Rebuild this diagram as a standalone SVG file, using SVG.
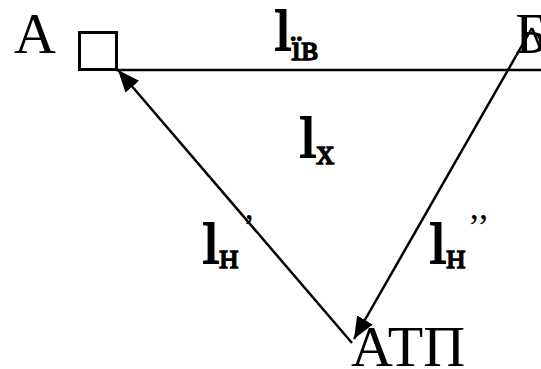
<svg xmlns="http://www.w3.org/2000/svg" width="541" height="369" viewBox="0 0 541 369">
<style>
  .lbl { font-family: "Liberation Serif", "Times New Roman", serif; font-size: 58px; fill: #000; }
  .ell { font-family: "Liberation Serif", "Times New Roman", serif; font-size: 58px; fill: #000; stroke: #000; stroke-width: 2.2px; }
  .sub { font-family: "Liberation Serif", "Times New Roman", serif; font-size: 36px; fill: #000; stroke: #000; stroke-width: 1.4px; }
  .q { font-family: "Liberation Serif", "Times New Roman", serif; font-size: 36px; fill: #000; }
  .ln { stroke: #000; stroke-width: 2.5; fill: none; }
</style>
<defs>
  <marker id="arr" markerUnits="userSpaceOnUse" markerWidth="24" markerHeight="18" refX="22" refY="9" orient="auto">
    <path d="M0,0 L22,9 L0,18 Z" fill="#000"/>
  </marker>
</defs>
<rect width="541" height="369" fill="#fff"/>
<g id="nodeA">
  <rect x="79.5" y="32.5" width="37" height="37" fill="none" stroke="#000" stroke-width="3"/>
  <text class="lbl" x="14" y="53">А</text>
</g>
<g id="nodeB">
  <text class="lbl" x="515" y="53">Б</text>
</g>
<g id="nodeATP">
  <text class="lbl" x="351" y="366">АТП</text>
</g>
<g id="connectors">
  <line class="ln" x1="116" y1="70" x2="541" y2="70" stroke-width="3"/>
  <line class="ln" x1="352" y1="343" x2="118" y2="70" marker-end="url(#arr)"/>
  <line class="ln" x1="532" y1="28" x2="354" y2="339" marker-end="url(#arr)"/>
  <line class="ln" x1="532" y1="28" x2="541" y2="50"/>
</g>
<g id="labels">
  <text x="275" y="50"><tspan class="ell">l</tspan><tspan class="sub" dy="10">їв</tspan></text>
  <text x="300" y="157"><tspan class="ell">l</tspan><tspan class="sub" dy="7">х</tspan></text>
  <text x="203" y="263"><tspan class="ell">l</tspan><tspan class="sub" dy="5">н</tspan></text>
  <text class="q" x="243" y="239">’</text>
  <text x="430" y="263"><tspan class="ell">l</tspan><tspan class="sub" dy="5">н</tspan></text>
  <text class="q" x="468" y="239">’’</text>
</g>
</svg>
